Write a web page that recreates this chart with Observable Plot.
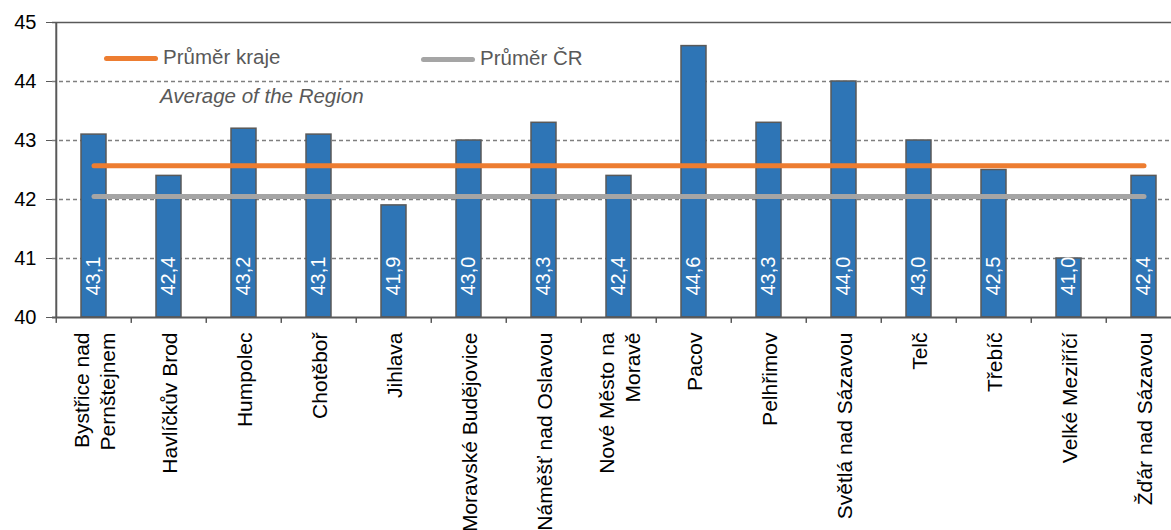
<!DOCTYPE html>
<html>
<head>
<meta charset="utf-8">
<script src="https://cdn.jsdelivr.net/npm/d3@7"></script>
<script src="https://cdn.jsdelivr.net/npm/@observablehq/plot@0.6"></script>
<style>
  html, body { margin: 0; padding: 0; background: #fff; overflow: hidden; }
  #wrap { position: relative; width: 1171px; height: 530px; overflow: hidden; font-family: "Liberation Sans", Arial, sans-serif; }
  #wrap svg { max-width: none !important; display: block; }
  .leg { position: absolute; font-size: 20.5px; color: #595959; white-space: nowrap; line-height: 1; }
  .sw { position: absolute; height: 5px; border-radius: 3px; }
</style>
</head>
<body>
<div id="wrap"></div>
<script>
const towns = ["Bystřice nad\nPernštejnem", "Havlíčkův Brod", "Humpolec", "Chotěboř", "Jihlava",
  "Moravské Budějovice", "Náměšť nad Oslavou", "Nové Město na\nMoravě", "Pacov", "Pelhřimov",
  "Světlá nad Sázavou", "Telč", "Třebíč", "Velké Meziříčí", "Žďár nad Sázavou"];
const values = [43.1, 42.4, 43.2, 43.1, 41.9, 43.0, 43.3, 42.4, 44.6, 43.3, 44.0, 43.0, 42.5, 41.0, 42.4];
const regionAvg = 42.57;
const czAvg = 42.05;
const yTicks = [40, 41, 42, 43, 44, 45];
const legendLabels = ["Průměr kraje", "Průměr ČR", "Average of the Region"];

const data = towns.map((t, i) => ({town: t, value: values[i]}));
const fmt = v => v.toFixed(1).replace(".", ",");

const chart = Plot.plot({
  width: 1190,
  height: 530,
  marginLeft: 52,
  marginRight: 6,
  marginTop: 22,
  marginBottom: 213,
  style: {fontFamily: "Liberation Sans, Arial, sans-serif", background: "white"},
  x: {domain: towns, paddingInner: 0.67, paddingOuter: 0.335, axis: null},
  y: {domain: [40, 45], axis: null},
  marks: [
    Plot.ruleY(yTicks.filter(d => d > 40 && d < 45), {stroke: "#7f7f7f", strokeWidth: 1.3, strokeDasharray: "4,3"}),
    Plot.ruleY([45], {stroke: "#595959", strokeWidth: 1.5}),
    Plot.barY(data, {x: "town", y1: 40, y2: "value", fill: "#2E75B6", stroke: "#595959", strokeWidth: 1.5}),
    Plot.lineY(towns, {x: d => d, y: () => regionAvg, stroke: "#ED7D31", strokeWidth: 5, strokeLinecap: "round"}),
    Plot.lineY(towns, {x: d => d, y: () => czAvg, stroke: "#A5A5A5", strokeWidth: 5, strokeLinecap: "round"}),
    Plot.text(data, {x: "town", y: 40, text: d => fmt(d.value), rotate: -90, textAnchor: "start", lineAnchor: "middle", dy: -22, fill: "white", fontSize: 20}),
    Plot.text(data, {x: "town", y: 40, text: "town", rotate: -90, textAnchor: "end", lineAnchor: "middle", lineHeight: 1.2, dy: 15, fill: "#000", fontSize: 21}),
    Plot.ruleX(towns, {x: d => d, y1: 40, y2: 39.9, dx: -37.73, stroke: "#595959", strokeWidth: 1.5}),
    Plot.ruleX([towns[0]], {x: d => d, y1: 40, y2: 45, dx: -37.73, stroke: "#595959", strokeWidth: 2}),
    Plot.ruleY([40], {stroke: "#595959", strokeWidth: 2}),
    Plot.axisY({ticks: yTicks, label: null, tickSize: 6, tickPadding: 10, fontSize: 20, tickFormat: d => String(d), stroke: "#595959", fill: "#000"})
  ]
});
const wrap = document.getElementById("wrap");
wrap.appendChild(chart);

const legend = [
  {label: legendLabels[0], color: "#ED7D31", x: 104, y: 58},
  {label: legendLabels[1], color: "#A5A5A5", x: 421, y: 59}
];
for (const l of legend) {
  const sw = document.createElement("div");
  sw.className = "sw";
  sw.style.left = l.x + "px"; sw.style.top = (l.y - 2.5) + "px"; sw.style.width = "54px"; sw.style.background = l.color;
  wrap.appendChild(sw);
  const t = document.createElement("div");
  t.className = "leg";
  t.textContent = l.label;
  t.style.left = (l.x + 59) + "px"; t.style.top = (l.y - 11) + "px";
  wrap.appendChild(t);
}
const sub = document.createElement("div");
sub.className = "leg";
sub.style.fontStyle = "italic";
sub.textContent = legendLabels[2];
sub.style.left = "160px"; sub.style.top = "86px";
wrap.appendChild(sub);
</script>
</body>
</html>
